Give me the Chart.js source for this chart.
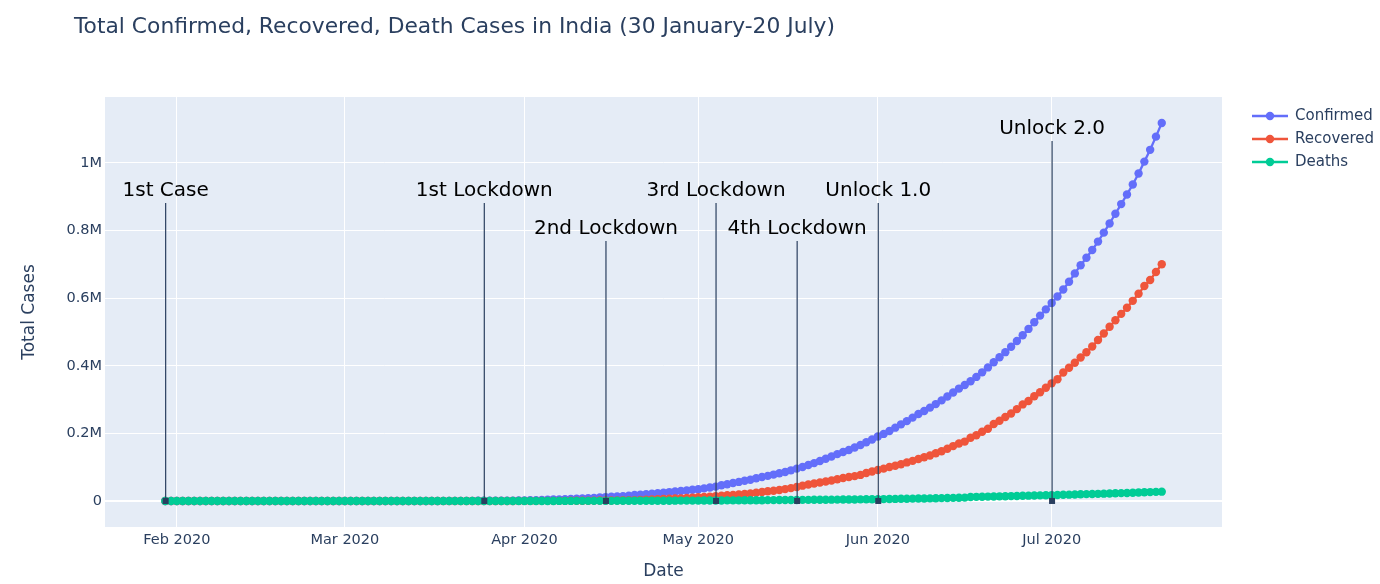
<!DOCTYPE html>
<html>
<head>
<meta charset="utf-8">
<script src="https://cdn.jsdelivr.net/npm/chart.js@4.4.1/dist/chart.umd.min.js"></script>
<style>
  body { margin: 0; background: #fff; }
  #wrap { width: 1380px; height: 584px; }
</style>
</head>
<body>
<div id="wrap"><canvas id="cases" width="1380" height="584"></canvas></div>
<script>
// daily series, 30 Jan 2020 .. 20 Jul 2020
const firstDay = '2020-01-30';

const confirmed = [
  1, 1,
  1, 1, 2, 3, 3, 3, 3, 3, 3, 3, 3, 3, 3, 3, 3, 3, 3, 3, 3, 3, 3, 3, 3, 3, 3, 3, 3, 3, 3,
  3, 3, 5, 6, 28, 30, 31, 34, 39, 48, 63, 71, 81, 91, 102, 112, 126, 146, 171, 198, 256, 334, 403, 497, 571, 657, 730, 883, 1019, 1139, 1326,
  1635, 2059, 2545, 3105, 3684, 4293, 4778, 5311, 5916, 6725, 7598, 8446, 9205, 10453, 11487, 12322, 13430, 14352, 15722, 17615, 18539, 20080, 21370, 23077, 24530, 26283, 27890, 29451, 31324, 33062,
  34863, 37257, 39699, 42505, 46437, 49400, 52987, 56351, 59695, 62808, 67161, 70768, 74292, 78055, 81997, 85784, 90648, 95698, 100328, 106475, 112028, 118226, 124794, 131423, 138536, 144950, 150793, 158086, 165386, 173491, 181827,
  190609, 198370, 207191, 216824, 226713, 236184, 246622, 257486, 265928, 276146, 286605, 297535, 308993, 320922, 332424, 343091, 354065, 366946, 380532, 395048, 410461, 425282, 440215, 456183, 473105, 490401, 508953, 528859, 548318, 566840,
  585481, 604641, 625544, 648315, 673165, 697413, 719665, 742417, 767296, 793802, 820916, 849553, 878254, 906752, 936181, 968876, 1003832, 1038716, 1077781, 1118043
];

const recovered = [
  0, 0,
  0, 0, 0, 0, 0, 0, 0, 0, 0, 0, 0, 0, 0, 0, 3, 3, 3, 3, 3, 3, 3, 3, 3, 3, 3, 3, 3, 3, 3,
  3, 3, 3, 3, 3, 3, 3, 3, 3, 3, 3, 3, 4, 4, 10, 13, 14, 15, 20, 23, 23, 24, 24, 40, 43, 45, 67, 79, 102, 124, 143,
  151, 169, 191, 229, 286, 328, 375, 422, 473, 620, 686, 859, 1000, 1190, 1344, 1489, 1879, 2014, 2301, 2580, 3260, 3873, 4370, 5063, 5939, 6523, 7137, 7796, 9068, 10007,
  10819, 11775, 12847, 14183, 15331, 16776, 17887, 19358, 20969, 22549, 24420, 26400, 28546, 30258, 32323, 35108, 37916, 41406, 45300, 48553, 51824, 54441, 57720, 60490, 64277, 67749, 71106, 73560, 77103, 82627, 86984,
  91819, 95754, 100285, 104071, 108450, 114073, 118695, 124095, 129215, 134670, 140979, 147195, 154330, 162379, 169798, 175699, 186935, 194325, 204711, 213831, 227756, 237196, 248190, 258685, 271697, 285637, 295881, 309713, 321723, 334821,
  347978, 359860, 379892, 394227, 409083, 424433, 439948, 456831, 476378, 495513, 515386, 534618, 553471, 571460, 592032, 612768, 635757, 653751, 677423, 700087
];

const deaths = [
  0, 0,
  0, 0, 0, 0, 0, 0, 0, 0, 0, 0, 0, 0, 0, 0, 0, 0, 0, 0, 0, 0, 0, 0, 0, 0, 0, 0, 0, 0, 0,
  0, 0, 0, 0, 0, 0, 0, 0, 0, 0, 0, 0, 1, 2, 2, 2, 2, 3, 3, 4, 5, 5, 7, 10, 10, 12, 20, 20, 24, 27, 32,
  35, 58, 72, 72, 86, 99, 136, 150, 178, 226, 246, 288, 331, 358, 393, 405, 448, 486, 521, 559, 592, 645, 681, 721, 780, 825, 881, 939, 1008, 1079,
  1154, 1223, 1323, 1391, 1566, 1693, 1785, 1889, 1985, 2109, 2206, 2293, 2415, 2549, 2649, 2753, 2872, 3025, 3156, 3302, 3434, 3584, 3726, 3868, 4021, 4167, 4337, 4531, 4706, 4971, 5164,
  5394, 5598, 5815, 6075, 6348, 6642, 6929, 7135, 7466, 7745, 8102, 8498, 8884, 9195, 9520, 9900, 11903, 12237, 12573, 12948, 13254, 13699, 14011, 14476, 14894, 15301, 15685, 16095, 16475, 16893,
  17400, 17834, 18213, 18655, 19268, 19693, 20160, 20642, 21129, 21604, 22123, 22673, 23174, 23727, 24309, 24915, 25602, 26273, 26816, 27497
];

const seriesNames = ['Confirmed', 'Recovered', 'Deaths'];
const seriesColors = ['#636efa', '#ef553b', '#00cc96'];

const eventDates = ['2020-01-30', '2020-03-25', '2020-04-15', '2020-05-04', '2020-05-18', '2020-06-01', '2020-07-01'];
const eventLabels = ['1st Case', '1st Lockdown', '2nd Lockdown', '3rd Lockdown', '4th Lockdown', 'Unlock 1.0', 'Unlock 2.0'];
const eventLift = [310, 310, 272, 310, 272, 310, 372]; // px above the zero line

const monthTicks = ['2020-02-01', '2020-03-01', '2020-04-01', '2020-05-01', '2020-06-01', '2020-07-01'];
const yTicks = [0, 200000, 400000, 600000, 800000, 1000000];
const yTickLabels = ['0', '0.2M', '0.4M', '0.6M', '0.8M', '1M'];

const DAY = 86400000;
const FONT = '"DejaVu Sans", Verdana, sans-serif';
const INK = '#2a3f5f';
const ms = s => Date.parse(s + 'T00:00:00Z');
const monthName = ['Jan', 'Feb', 'Mar', 'Apr', 'May', 'Jun', 'Jul', 'Aug', 'Sep', 'Oct', 'Nov', 'Dec'];

const t0 = ms(firstDay);
const dates = confirmed.map((_, i) => t0 + i * DAY);

function toPoints(vals) {
  return vals.map((v, i) => ({ x: dates[i], y: v }));
}

const datasets = [confirmed, recovered, deaths].map((vals, i) => ({
  label: seriesNames[i],
  data: toPoints(vals),
  borderColor: seriesColors[i],
  backgroundColor: seriesColors[i],
  pointBackgroundColor: seriesColors[i],
  pointBorderWidth: 0,
  pointRadius: 4.2,
  borderWidth: 2.3,
  order: 2 - i, // deaths on top
}));

// plot background + annotations + legend + titles
const decor = {
  id: 'decor',
  beforeDraw(chart) {
    const { ctx, chartArea: a } = chart;
    ctx.save();
    ctx.fillStyle = '#e5ecf6';
    ctx.fillRect(a.left, a.top, a.right - a.left, a.bottom - a.top);
    ctx.restore();
  },
  afterDatasetsDraw(chart) {
    const { ctx, scales: { x, y } } = chart;
    ctx.save();
    const base = y.getPixelForValue(0);
    eventDates.forEach((d, i) => {
      const px = x.getPixelForValue(ms(d)) + 0.4;
      const ty = base - eventLift[i];
      ctx.strokeStyle = INK;
      ctx.lineWidth = 1.2;
      ctx.beginPath();
      ctx.moveTo(px, ty + 12);
      ctx.lineTo(px, base);
      ctx.stroke();
      ctx.fillStyle = INK;
      ctx.fillRect(px - 3, base - 3, 6, 6);
      ctx.fillStyle = '#000';
      ctx.font = '20px ' + FONT;
      ctx.textAlign = 'center';
      ctx.textBaseline = 'middle';
      ctx.fillText(eventLabels[i], px, ty);
    });
    ctx.restore();
  },
  afterDraw(chart) {
    const { ctx, chartArea: a } = chart;
    ctx.save();
    ctx.fillStyle = INK;
    ctx.textBaseline = 'middle';

    ctx.font = '21.8px ' + FONT;
    ctx.textAlign = 'left';
    ctx.fillText('Total Confirmed, Recovered, Death Cases in India (30 January-20 July)', 74, 27);

    ctx.font = '17px ' + FONT;
    ctx.textAlign = 'center';
    ctx.fillText('Date', (a.left + a.right) / 2, 572);
    ctx.save();
    ctx.translate(30, (a.top + a.bottom) / 2);
    ctx.rotate(-Math.PI / 2);
    ctx.fillText('Total Cases', 0, 0);
    ctx.restore();

    // legend
    ctx.font = '15px ' + FONT;
    ctx.textAlign = 'left';
    seriesNames.forEach((name, i) => {
      const ly = 116 + i * 23;
      ctx.strokeStyle = seriesColors[i];
      ctx.lineWidth = 2.3;
      ctx.beginPath();
      ctx.moveTo(1252, ly);
      ctx.lineTo(1288, ly);
      ctx.stroke();
      ctx.fillStyle = seriesColors[i];
      ctx.beginPath();
      ctx.arc(1270, ly, 4.2, 0, Math.PI * 2);
      ctx.fill();
      ctx.fillStyle = INK;
      ctx.fillText(name, 1295, ly);
    });
    ctx.restore();
  }
};

new Chart(document.getElementById('cases'), {
  type: 'line',
  data: { datasets },
  plugins: [decor],
  options: {
    responsive: false,
    devicePixelRatio: 1,
    animation: false,
    layout: { padding: { top: 97, right: 158, left: 0, bottom: 0 } },
    plugins: {
      legend: { display: false },
      title: { display: false },
      tooltip: { enabled: false }
    },
    scales: {
      x: {
        type: 'linear',
        min: t0 - 10.4 * DAY,
        max: dates[dates.length - 1] + 10.4 * DAY,
        afterBuildTicks: s => { s.ticks = monthTicks.map(d => ({ value: ms(d) })); },
        afterFit: s => { s.height = 57; },
        border: { display: false },
        grid: { color: '#ffffff', lineWidth: 1, drawTicks: false },
        ticks: {
          padding: 5,
          color: INK,
          font: { family: FONT, size: 14.5 },
          maxRotation: 0,
          callback: v => { const d = new Date(v); return monthName[d.getUTCMonth()] + ' ' + d.getUTCFullYear(); }
        }
      },
      y: {
        min: -77000,
        max: 1195000,
        afterBuildTicks: s => { s.ticks = yTicks.map(v => ({ value: v })); },
        afterFit: s => { s.width = 105; },
        border: { display: false },
        grid: {
          color: '#ffffff',
          lineWidth: c => (c.tick && c.tick.value === 0 ? 2 : 1),
          drawTicks: false
        },
        ticks: {
          padding: 3,
          color: INK,
          font: { family: FONT, size: 14.5 },
          callback: v => yTickLabels[yTicks.indexOf(v)]
        }
      }
    }
  }
});
</script>
</body>
</html>
